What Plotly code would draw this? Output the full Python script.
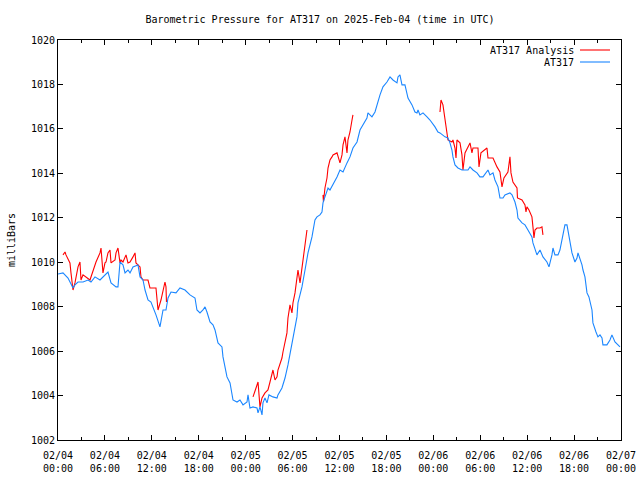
import datetime as dt
import plotly.graph_objects as go

START = dt.datetime(2025, 2, 4, 0, 0)

# AT317 observations: hours since 2025-02-04 00:00 UTC, pressure (mb)
blue_hours = [0.00, 0.64, 1.28, 1.92, 2.17, 2.56, 3.20, 3.84, 4.22, 4.73, 5.37, 6.01, 6.39, 6.78, 7.42, 7.67,
              7.93, 8.31, 8.57, 8.95, 9.21, 9.59, 10.23, 10.49, 10.87, 11.13, 11.51, 11.89, 12.15, 12.53, 13.04,
              13.43, 13.81, 14.07, 14.45, 15.09, 15.60, 16.24, 16.88, 17.52, 17.77, 18.16, 18.54, 18.80, 19.05,
              19.44, 19.82, 20.08, 20.46, 20.97, 21.10, 21.36, 21.61, 22.00, 22.25, 22.38, 22.89, 23.27, 23.66,
              24.17, 24.30, 24.55, 24.94, 25.45, 25.58, 25.83, 26.09, 26.21, 26.47, 26.73, 26.98, 27.49, 28.01,
              28.13, 28.64, 29.03, 29.41, 29.67, 29.92, 30.31, 30.56, 30.69, 31.20, 31.59, 31.97, 32.48, 32.86,
              33.12, 33.50, 33.76, 33.89, 34.14, 34.40, 34.53, 34.78, 35.17, 35.68, 36.06, 36.45, 36.96, 37.34,
              37.72, 38.24, 38.62, 39.00, 39.51, 39.64, 40.15, 40.54, 40.79, 41.18, 41.56, 42.07, 42.46, 42.84,
              43.35, 43.48, 43.73, 43.99, 44.37, 44.63, 44.76, 45.27, 45.65, 45.91, 46.04, 46.29, 46.68, 47.19,
              47.57, 48.21, 48.59, 48.85, 49.49, 49.87, 50.13, 50.38, 50.51, 50.77, 51.15, 51.66, 52.43, 52.69,
              53.07, 53.58, 53.96, 54.35, 54.99, 55.24, 55.63, 55.88, 56.27, 56.52, 56.91, 57.16, 57.80, 58.06,
              58.44, 58.70, 58.82, 59.34, 59.72, 60.10, 60.61, 60.74, 61.25, 61.64, 62.02, 62.53, 62.79, 63.17,
              63.30, 63.55, 63.94, 64.19, 64.45, 64.58, 64.83, 65.09, 65.22, 65.47, 65.73, 66.11, 66.37, 66.50,
              66.75, 67.01, 67.14, 67.39, 67.65, 67.90, 68.29, 68.41, 68.80, 69.05, 69.31, 69.57, 69.69, 70.20,
              70.59, 70.84, 71.23, 71.61, 71.87]
blue_mb = [1009.47, 1009.52, 1009.29, 1008.84, 1008.98, 1009.11, 1009.11, 1009.20, 1009.11, 1009.34, 1009.20,
           1009.43, 1009.56, 1009.07, 1008.89, 1008.89, 1010.01, 1009.88, 1009.52, 1009.65, 1009.52, 1009.79,
           1009.88, 1009.34, 1009.20, 1008.75, 1008.30, 1008.21, 1007.99, 1007.63, 1007.09, 1007.85, 1007.85,
           1008.39, 1008.66, 1008.62, 1008.84, 1008.75, 1008.53, 1008.39, 1007.85, 1007.72, 1007.85, 1007.99,
           1007.76, 1007.31, 1007.18, 1006.95, 1006.37, 1006.19, 1005.74, 1005.29, 1004.84, 1004.57, 1003.94,
           1003.80, 1003.71, 1003.80, 1003.58, 1003.71, 1004.03, 1003.44, 1003.49, 1003.44, 1003.22, 1003.49,
           1003.13, 1003.67, 1003.89, 1003.67, 1004.03, 1003.94, 1003.89, 1004.03, 1004.34, 1004.79, 1005.38,
           1005.83, 1006.41, 1006.95, 1007.54, 1008.17, 1008.89, 1009.65, 1010.42, 1011.14, 1011.90, 1012.04,
           1012.13, 1012.26, 1012.67, 1012.94, 1013.25, 1013.34, 1013.25, 1013.48, 1013.84, 1014.15, 1014.06,
           1014.47, 1014.74, 1015.14, 1015.41, 1015.95, 1016.18, 1016.49, 1016.72, 1016.54, 1016.76, 1017.08,
           1017.53, 1017.89, 1018.11, 1018.34, 1018.20, 1018.07, 1018.34, 1018.43, 1017.98, 1017.98, 1017.66,
           1017.39, 1017.08, 1016.76, 1016.72, 1016.85, 1016.63, 1016.72, 1016.54, 1016.40, 1016.09, 1015.86,
           1015.82, 1015.64, 1015.59, 1015.37, 1015.05, 1014.74, 1014.38, 1014.24, 1014.15, 1014.15, 1014.29,
           1014.15, 1014.02, 1013.84, 1013.84, 1014.15, 1013.93, 1014.02, 1013.70, 1013.39, 1012.89, 1012.89,
           1013.03, 1013.12, 1013.03, 1012.71, 1012.35, 1011.99, 1011.77, 1011.68, 1011.45, 1011.14, 1010.87,
           1010.33, 1010.55, 1010.24, 1010.01, 1009.79, 1010.33, 1010.64, 1010.33, 1010.33, 1010.55, 1011.00,
           1011.36, 1011.68, 1011.68, 1011.45, 1010.87, 1010.42, 1010.01, 1010.19, 1010.42, 1010.19, 1009.88,
           1009.65, 1009.34, 1008.62, 1008.44, 1007.85, 1007.27, 1006.86, 1006.64, 1006.73, 1006.59, 1006.28,
           1006.28, 1006.50, 1006.73, 1006.41, 1006.28, 1006.19]

# AT317 Analysis: hours since start, pressure (mb); None marks a gap in the record
red_hours = [0.64, 0.90, 1.02, 1.53, 1.66, 1.92, 2.17, 2.30, 2.56, 2.81, 2.94, 3.20, 3.58, 4.09, 4.86, 5.37,
             5.50, 5.75, 6.01, 6.14, 6.39, 6.65, 6.78, 7.29, 7.42, 7.67, 7.93, 8.06, 8.31, 8.70, 8.95, 9.21,
             9.59, 9.85, 9.97, 10.23, 10.49, 10.61, 10.87, 11.51, 11.76, 12.53, 12.79, 13.17, 13.68, 13.81,
             13.87, None,
             24.94, 25.58, 25.83, 26.09, 26.47, 26.85, 27.11, 27.49, 27.75, 28.01, 28.13, 28.64, 28.77, 29.03,
             29.28, 29.41, 29.67, 29.92, 30.05, 30.31, 30.56, 30.69, 30.95, 31.33, 31.59, 31.84, None,
             33.89, 33.95, 34.14, 34.40, 34.53, 34.78, 35.04, 35.17, 35.68, 35.81, 36.06, 36.32, 36.45, 36.70,
             36.96, 37.08, 37.34, 37.60, 37.72, None,
             48.85, 48.98, 49.23, 49.49, 49.74, 49.87, 50.38, 50.51, 50.77, 50.90, 51.02, 51.41, 51.66, 51.79,
             52.05, 52.43, 52.69, 52.94, 53.07, 53.71, 53.84, 54.09, 54.22, 54.86, 54.99, 55.63, 56.14, 56.52,
             56.78, 57.03, 57.54, 57.80, 57.93, 58.18, 58.70, 58.76, 59.34, 59.72, 59.85, 59.97, 60.23, 60.61,
             60.74, 60.87, 61.00, 61.25, 61.64, 61.89, 62.02]
red_mb = [1010.33, 1010.46, 1010.33, 1009.97, 1009.52, 1008.75, 1009.07, 1009.29, 1009.79, 1010.01, 1009.20,
          1009.43, 1009.34, 1009.20, 1010.01, 1010.42, 1010.64, 1009.52, 1009.97, 1010.01, 1010.42, 1010.55,
          1009.97, 1010.10, 1010.42, 1010.64, 1009.97, 1010.10, 1010.01, 1010.33, 1009.97, 1010.01, 1010.24,
          1010.42, 1009.97, 1009.88, 1009.79, 1009.34, 1009.20, 1009.20, 1008.84, 1008.84, 1007.85, 1008.30,
          1009.11, 1008.89, 1008.21, None,
          1003.94, 1004.61, 1003.49, 1003.89, 1004.12, 1004.25, 1004.61, 1005.15, 1004.70, 1004.84, 1005.15,
          1005.69, 1005.96, 1006.37, 1006.82, 1007.49, 1008.08, 1007.72, 1008.17, 1008.62, 1009.20, 1009.65,
          1009.07, 1010.10, 1010.55, 1011.45, None,
          1013.03, 1012.71, 1013.34, 1013.79, 1014.24, 1014.60, 1014.74, 1014.83, 1014.92, 1014.74, 1014.47,
          1014.83, 1015.28, 1015.64, 1014.92, 1015.50, 1015.86, 1016.40, 1016.63, None,
          1016.76, 1017.30, 1017.08, 1016.49, 1015.95, 1015.50, 1015.41, 1015.50, 1015.14, 1014.69, 1015.50,
          1015.37, 1014.83, 1014.15, 1014.92, 1015.19, 1015.37, 1014.92, 1015.14, 1015.14, 1014.29, 1014.92,
          1014.96, 1015.14, 1014.69, 1014.69, 1014.29, 1014.06, 1013.39, 1013.79, 1014.06, 1014.74, 1014.02,
          1013.61, 1013.34, 1012.89, 1012.80, 1012.58, 1012.26, 1012.49, 1012.35, 1012.04, 1011.59, 1011.09,
          1011.45, 1011.54, 1011.54, 1011.59, 1011.23]

series_names = ["AT317 Analysis", "AT317"]
series_colors = ["#ff0000", "#1a86ff"]
title_text = "Barometric Pressure for AT317 on 2025-Feb-04 (time in UTC)"
y_label = "milliBars"
y_range = [1002, 1020]
x_range = [START, START + dt.timedelta(hours=72)]


def to_time(hours):
    return [None if h is None else START + dt.timedelta(hours=h) for h in hours]


FONT = "DejaVu Sans Mono, Liberation Mono, monospace"

fig = go.Figure()
fig.add_trace(go.Scatter(x=to_time(red_hours), y=red_mb, mode="lines", name=series_names[0],
                         line=dict(color=series_colors[0], width=1.1), connectgaps=False, showlegend=False))
fig.add_trace(go.Scatter(x=to_time(blue_hours), y=blue_mb, mode="lines", name=series_names[1],
                         line=dict(color=series_colors[1], width=1.1), showlegend=False))

# gnuplot-style key: text right-aligned, line sample to its right
for i, (name, color) in enumerate(zip(series_names, series_colors)):
    ypos = 1 - (10 + 12 * i) / 400.0
    fig.add_annotation(x=(576 - 58) / 563.0, y=ypos, xref="paper", yref="paper", text=name,
                       showarrow=False, xanchor="right", yanchor="middle",
                       font=dict(family=FONT, size=10, color="black"))
    fig.add_shape(type="line", xref="paper", yref="paper",
                  x0=(580 - 58) / 563.0, x1=(610 - 58) / 563.0, y0=ypos, y1=ypos,
                  line=dict(color=color, width=1.1))

fig.update_layout(
    width=640, height=480,
    margin=dict(l=58, r=19, t=40, b=40, autoexpand=False),
    paper_bgcolor="white", plot_bgcolor="white",
    font=dict(family=FONT, size=10, color="black"),
    title=dict(text=title_text, x=0.5, xanchor="center", y=1 - 19 / 480.0, yanchor="middle",
               font=dict(family=FONT, size=10, color="black")),
)
fig.update_xaxes(
    type="date", range=x_range, tickformat="%m/%d<br>%H:%M", dtick=6 * 3600 * 1000,
    tick0=START, ticks="inside", ticklen=5, tickcolor="black", tickwidth=1, automargin=False,
    ticklabelstandoff=6,
    showline=True, linecolor="black", linewidth=1, mirror="ticks", showgrid=False, zeroline=False,
    minor=dict(dtick=3 * 3600 * 1000, ticks="inside", ticklen=3, tickcolor="black", showgrid=False),
    tickfont=dict(family=FONT, size=10, color="black"),
)
fig.update_yaxes(
    range=y_range, dtick=2, ticks="inside", ticklen=5, tickcolor="black", tickwidth=1, automargin=False,
    showline=True, linecolor="black", linewidth=1, mirror="ticks", showgrid=False, zeroline=False,
    tickfont=dict(family=FONT, size=10, color="black"),
    title=dict(text=y_label, font=dict(family=FONT, size=10, color="black"), standoff=13),
)

fig.write_html("out.html", config={"displayModeBar": False},
               post_script="document.body.style.margin='0';")
